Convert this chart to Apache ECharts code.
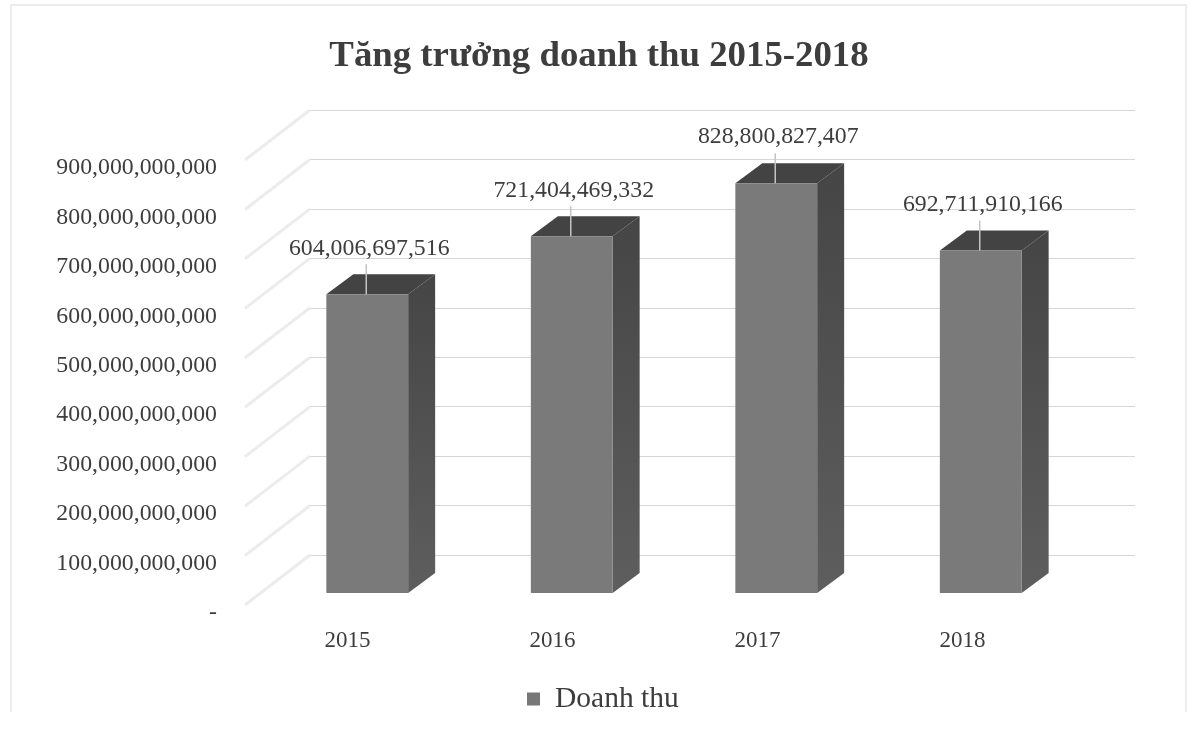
<!DOCTYPE html>
<html><head><meta charset="utf-8">
<style>html,body{margin:0;padding:0;background:#fff}#c{width:1192px;height:734px}</style>
<script src="https://cdn.jsdelivr.net/npm/echarts@6/dist/echarts.min.js"></script>
</head><body><div id="c"></div>
<script>
const titleText = 'Tăng trưởng doanh thu 2015-2018';
const seriesName = 'Doanh thu';
const categories = ['2015', '2016', '2017', '2018'];
const revenue = [604006697516, 721404469332, 828800827407, 692711910166];
const yTicks = [0, 100000000000, 200000000000, 300000000000, 400000000000, 500000000000, 600000000000, 700000000000, 800000000000, 900000000000];

const FONT = '"Liberation Serif","Times New Roman",serif';
const TEXT = '#3d3d3d';
const fmt = v => Math.round(v).toLocaleString('en-US');
const chart = echarts.init(document.getElementById('c'), null, {renderer: 'canvas'});
const DX = 27, DY = -20, LEFT_DX = -65, LEFT_DY = 50;

chart.setOption({
  animation: false,
  backgroundColor: '#fff',
  title: {
    text: titleText, left: 594, top: 33, textAlign: 'center',
    textStyle: {fontFamily: FONT, fontWeight: 'bold', fontSize: 36.8, color: TEXT}
  },
  legend: {
    data: [{name: seriesName, icon: 'rect', itemStyle: {color: '#777'}}],
    left: 522, top: 679, itemWidth: 13, itemHeight: 13,
    textStyle: {fontFamily: FONT, fontSize: 29.5, color: TEXT, padding: [0, 0, 0, 10]}
  },
  grid: [
    {left: 310, width: 825, top: 110, height: 445},   // back wall
    {left: 245, width: 820, top: 168, height: 445},   // front labels
    {left: 265, width: 818, top: 148, height: 445}    // bars
  ],
  xAxis: [
    {gridIndex: 0, type: 'category', data: categories, show: false},
    {gridIndex: 1, type: 'category', data: categories,
      axisLine: {show: false}, axisTick: {show: false},
      axisLabel: {margin: 16, fontFamily: FONT, fontSize: 23, color: TEXT}},
    {gridIndex: 2, type: 'category', data: categories, show: false}
  ],
  yAxis: [
    {gridIndex: 0, type: 'value', min: 0, max: 900000000000, interval: 100000000000,
      axisLine: {show: false}, axisTick: {show: false}, axisLabel: {show: false},
      splitLine: {show: true, lineStyle: {color: '#d6d6d6', width: 1.2}}},
    {gridIndex: 1, type: 'value', min: 0, max: 900000000000, interval: 100000000000,
      axisLine: {show: false}, axisTick: {show: false}, splitLine: {show: false},
      axisLabel: {margin: 28, fontFamily: FONT, fontSize: 23.8, color: TEXT,
        formatter: v => v === 0 ? '-' : fmt(v)}},
    {gridIndex: 2, type: 'value', min: 0, max: 900000000000, interval: 100000000000, show: false}
  ],
  series: [
    {
      type: 'custom', name: 'wall', xAxisIndex: 0, yAxisIndex: 0, silent: true,
      data: yTicks.map(v => [0, v]),
      encode: {x: 0, y: 1},
      renderItem: (params, api) => {
        const p = api.coord([0, api.value(1)]);
        const x = params.coordSys.x;
        return {type: 'line', z2: 1,
          shape: {x1: x, y1: p[1], x2: x + LEFT_DX, y2: p[1] + LEFT_DY},
          style: {stroke: '#ececec', lineWidth: 3}};
      }
    },
    {
      type: 'custom', name: seriesName, xAxisIndex: 2, yAxisIndex: 2, silent: true,
      itemStyle: {color: '#777'},
      data: revenue.map((v, i) => [i, v]),
      encode: {x: 0, y: 1},
      renderItem: (params, api) => {
        const val = api.value(1);
        const top = api.coord([api.value(0), val]);
        const base = api.coord([api.value(0), 0]);
        const w = api.size([1, 0])[0] * 0.4;
        const l = top[0] - w / 2, r = top[0] + w / 2;
        const poly = (pts, fill) => ({type: 'polygon', shape: {points: pts}, style: {fill}});
        return {type: 'group', children: [
          poly([[r, top[1]], [r + DX, top[1] + DY], [r + DX, base[1] + DY], [r, base[1]]],
            new echarts.graphic.LinearGradient(0, 0, 0, 1, [{offset: 0, color: '#454545'}, {offset: 1, color: '#5e5e5e'}])),
          poly([[l, top[1]], [l + DX, top[1] + DY], [r + DX, top[1] + DY], [r, top[1]]], '#434343'),
          poly([[l, top[1]], [r, top[1]], [r, base[1]], [l, base[1]]], '#7a7a7a'),
          {type: 'line', shape: {x1: top[0] - 1, y1: top[1], x2: top[0] - 1, y2: top[1] - 30},
            style: {stroke: '#c4c4c4', lineWidth: 1.5}},
          {type: 'text', style: {x: top[0] + 2, y: top[1] - 46, text: fmt(val), align: 'center', verticalAlign: 'middle',
            fontFamily: FONT, fontSize: 23.8, fill: TEXT}}
        ]};
      }
    }
  ],
  graphic: [
    {type: 'rect', silent: true, z: -1,
      shape: {x: 11, y: 5, width: 1175, height: 708},
      style: {fill: 'none', stroke: '#ececec', lineWidth: 2}},
    {type: 'rect', silent: true, z: -1,
      shape: {x: 0, y: 712, width: 1192, height: 5},
      style: {fill: '#fff'}}
  ]
});
</script></body></html>
